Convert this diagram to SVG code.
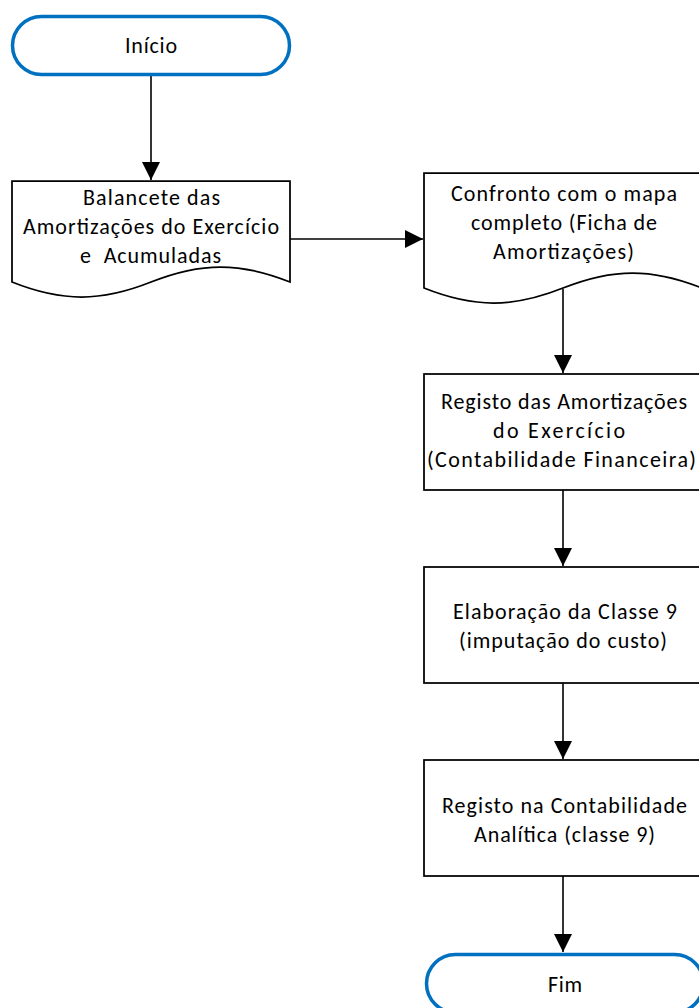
<svg xmlns="http://www.w3.org/2000/svg" width="699" height="1008" viewBox="0 0 699 1008">
  <defs>
    <marker id="arrow" markerUnits="userSpaceOnUse" markerWidth="18" markerHeight="18" viewBox="0 0 16 16" refX="16" refY="8" orient="auto">
      <path d="M0,0 L16,8 L0,16 Z" fill="#000"/>
    </marker>
    <style>
      .term { fill: #fff; stroke: #0070C0; stroke-width: 3.5; }
      .box { fill: #fff; stroke: #000; stroke-width: 1.75; }
      .lbl { font-family: Carlito, Calibri, Lato, "Open Sans", sans-serif; font-size: 22px; fill: #000; text-anchor: middle; white-space: pre; }
      .edge { fill: none; stroke: #000; stroke-width: 1.6; marker-end: url(#arrow); }
    </style>
  </defs>
  <rect width="699" height="1008" fill="#fff"/>

  <!-- connectors -->
  <g id="connectors">
    <path class="edge" d="M151,76 L151,180"/>
    <path class="edge" d="M290,239 L423,239"/>
    <path class="edge" d="M563,289 L563,373"/>
    <path class="edge" d="M563,490 L563,566"/>
    <path class="edge" d="M563,683 L563,759"/>
    <path class="edge" d="M563,876 L563,952"/>
  </g>

  <!-- start terminal -->
  <g id="inicio">
    <rect class="term" x="12.5" y="16.5" width="277" height="58" rx="29" ry="29"/>
    <text class="lbl" x="151" y="53" textLength="52" lengthAdjust="spacing">Início</text>
  </g>

  <!-- source document -->
  <g id="balancete">
    <path class="box" d="M12,181 L290,181 L290,282 C240,262 201,262 151,282 C101,302 62,302 12,282 Z"/>
    <text class="lbl" x="151.5" y="205" textLength="137" lengthAdjust="spacing">Balancete das</text>
    <text class="lbl" x="151" y="234" textLength="256" lengthAdjust="spacing">Amortizações do Exercício</text>
    <text class="lbl" x="150.5" y="263" textLength="141" lengthAdjust="spacing">e  Acumuladas</text>
  </g>

  <!-- comparison document -->
  <g id="confronto">
    <path class="box" d="M424,173 L702,173 L702,288 C652,268 613,268 563,288 C513,308 474,308 424,288 Z"/>
    <text class="lbl" x="564" y="201" textLength="226" lengthAdjust="spacing">Confronto com o mapa</text>
    <text class="lbl" x="564" y="230" textLength="186" lengthAdjust="spacing">completo (Ficha de</text>
    <text class="lbl" x="563.5" y="259" textLength="141" lengthAdjust="spacing">Amortizações)</text>
  </g>

  <!-- financial accounting record -->
  <g id="registo-financeira">
    <rect class="box" x="424" y="374" width="278" height="116"/>
    <text class="lbl" x="564" y="409" textLength="246" lengthAdjust="spacing">Registo das Amortizações</text>
    <text class="lbl" x="559" y="438" textLength="132" lengthAdjust="spacing">do Exercício</text>
    <text class="lbl" x="561.5" y="467" textLength="269" lengthAdjust="spacing">(Contabilidade Financeira)</text>
  </g>

  <!-- class 9 preparation -->
  <g id="classe9">
    <rect class="box" x="424" y="567" width="278" height="116"/>
    <text class="lbl" x="565" y="619" textLength="224" lengthAdjust="spacing">Elaboração da Classe 9</text>
    <text class="lbl" x="563" y="648" textLength="208" lengthAdjust="spacing">(imputação do custo)</text>
  </g>

  <!-- analytical accounting record -->
  <g id="registo-analitica">
    <rect class="box" x="424" y="760" width="278" height="116"/>
    <text class="lbl" x="564.5" y="813" textLength="245" lengthAdjust="spacing">Registo na Contabilidade</text>
    <text class="lbl" x="564.5" y="842" textLength="181" lengthAdjust="spacing">Analítica (classe 9)</text>
  </g>

  <!-- end terminal -->
  <g id="fim">
    <rect class="term" x="426.5" y="954.5" width="277" height="58" rx="29" ry="29"/>
    <text class="lbl" x="565" y="992" textLength="34" lengthAdjust="spacing">Fim</text>
  </g>
</svg>
